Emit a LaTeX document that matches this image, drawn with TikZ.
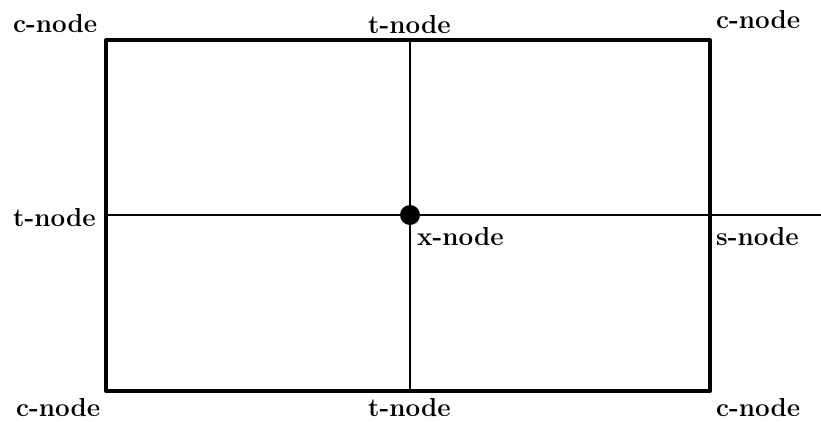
\documentclass[tikz,border=0pt]{standalone}
\begin{document}
\begin{tikzpicture}[x=1pt,y=-1pt,
  lbl/.style={anchor=base west,inner sep=0pt,font=\fontsize{26}{30}\selectfont\bfseries},
  frame/.style={line width=4pt,line join=round},
  mid/.style={line width=2.8pt},
  xdot/.style={circle,fill=black,inner sep=0pt,minimum size=20pt}]
\useasboundingbox (0,0) rectangle (821,422);
\coordinate (tl) at (106,40);
\coordinate (tr) at (710,40);
\coordinate (bl) at (106,391);
\coordinate (br) at (710,391);
\coordinate (tm) at (410,40);
\coordinate (bm) at (410,391);
\coordinate (lm) at (106,215);
\coordinate (rm) at (821,215);
\draw[frame] (tl) -- (tr) -- (br) -- (bl) -- cycle;
\draw[mid] (tm) -- (bm);
\draw[mid] (lm) -- (rm);
\node[xdot] (x) at (410,215) {};
\node[lbl] (c1) at (13,33) {c-node};
\node[lbl] (t1) at (368,34) {t-node};
\node[lbl] (c2) at (716,29) {c-node};
\node[lbl] (t2) at (13,226) {t-node};
\node[lbl] (xn) at (417,245) {x-node};
\node[lbl] (sn) at (716,245) {s-node};
\node[lbl] (c3) at (16,416) {c-node};
\node[lbl] (t3) at (368,416) {t-node};
\node[lbl] (c4) at (716,416) {c-node};
\end{tikzpicture}
\end{document}
